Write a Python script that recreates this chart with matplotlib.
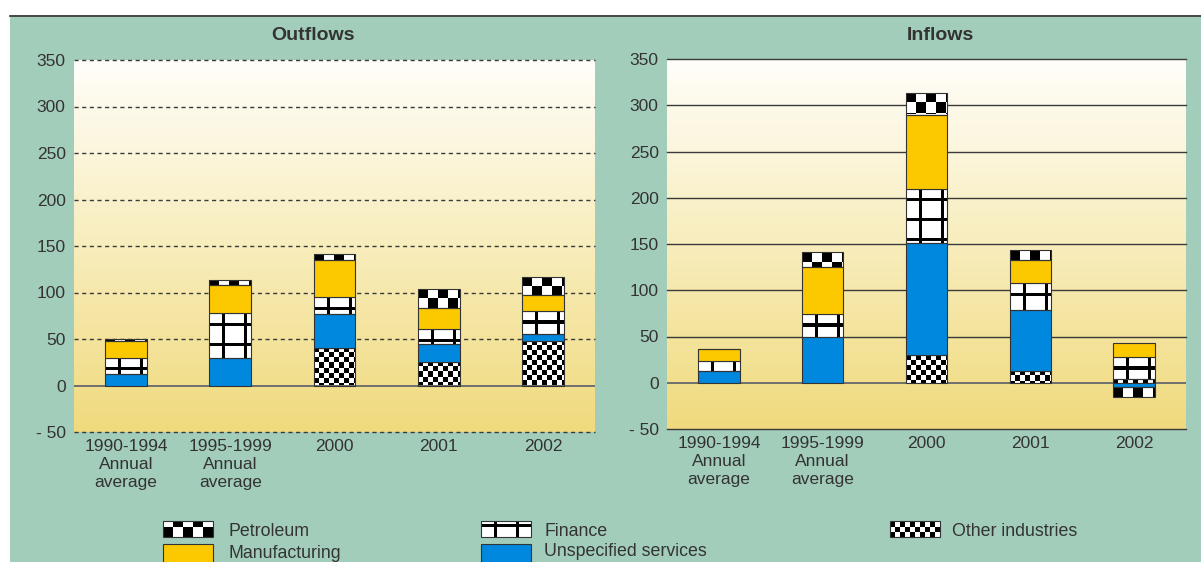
import matplotlib
matplotlib.use('Agg')
import matplotlib.pyplot as plt
import numpy as np
from matplotlib.colors import LinearSegmentedColormap
from matplotlib.patches import Rectangle

plt.rcParams['font.family'] = ['Liberation Sans', 'DejaVu Sans']

categories = ['1990-1994\nAnnual\naverage', '1995-1999\nAnnual\naverage', '2000', '2001', '2002']
y_ticks = [-50, 0, 50, 100, 150, 200, 250, 300, 350]
y_ticklabels = ['- 50', '0', '50', '100', '150', '200', '250', '300', '350']

# stacking order, bottom to top
series_names = ['Other industries', 'Unspecified services', 'Finance', 'Manufacturing', 'Petroleum']

out_other = [0, 0, 40, 25, 48]
out_unspec = [12, 30, 37, 20, 7]
out_finance = [18, 48, 18, 16, 25]
out_manuf = [17.5, 30, 40, 22, 17]
out_petrol = [2.5, 5, 6, 21, 20]

in_other = [0, 0, 30, 13, 4]
in_unspec = [13, 49, 121, 66, -5]
in_finance = [10.5, 25, 59, 29, 24]
in_manuf = [12.5, 51, 80, 25, 15.5]
in_petrol = [0.5, 16, 23, 11, -10.5]

GREEN = '#a3cdbb'
YELLOW = '#fcc800'
BLUE = '#0088de'
TXT = '#333333'
EDGE = '#333333'

styles = {
    'Other industries': ('none', 'small_check'),
    'Unspecified services': (BLUE, None),
    'Finance': ('none', 'grid'),
    'Manufacturing': (YELLOW, None),
    'Petroleum': ('none', 'big_check'),
}


def pattern_img(kind, w, h):
    yy, xx = np.mgrid[0:h, 0:w]
    if kind == 'big_check':
        return ((xx // 10 + yy // 10) % 2).astype(float)
    if kind == 'small_check':
        return ((xx // 5 + yy // 5) % 2).astype(float)
    img = np.ones((h, w))
    img[(xx % 22 >= 13) & (xx % 22 <= 15)] = 0
    img[((yy + 10) % 20) <= 2] = 0
    return img


def fill_pattern(ax, rect, kind):
    x0 = rect.get_x()
    x1 = x0 + rect.get_width()
    y0 = rect.get_y()
    y1 = y0 + rect.get_height()
    (px0, py0), (px1, py1) = ax.transData.transform([(x0, y0), (x1, y1)])
    w = max(1, int(round(abs(px1 - px0))))
    h = max(1, int(round(abs(py1 - py0))))
    img = pattern_img(kind, w, h)
    im = ax.imshow(img, cmap='gray', vmin=0, vmax=1,
                   extent=[min(x0, x1), max(x0, x1), min(y0, y1), max(y0, y1)],
                   origin='upper', interpolation='nearest', aspect='auto', zorder=2.5)
    im.set_clip_path(rect)


def sketch_panel(ax, data, title, title_x, grid_dashed):
    x = np.arange(len(categories))
    ax.set_xlim(-0.5, len(categories) - 0.5)
    ax.set_ylim(-50, 350)
    ax.set_facecolor('none')

    cmap = LinearSegmentedColormap.from_list('bg', ['#fffefa', '#f8edbc', '#f0da7d'])
    grad = np.linspace(0, 1, 256)[:, None]
    ax.imshow(grad, cmap=cmap, extent=(0, 1, 0, 1), transform=ax.transAxes,
              aspect='auto', origin='upper', zorder=0)

    for v in y_ticks:
        if v == 0:
            ax.axhline(0, color='#6e6e6e', lw=1.4, zorder=1)
        elif grid_dashed:
            ax.axhline(v, color='#3a3a3a', lw=1.0, ls=(0, (3, 2.5)), zorder=1, clip_on=False)
        else:
            ax.axhline(v, color='#3a3a3a', lw=1.0, zorder=1, clip_on=False)

    pos = np.zeros(len(categories))
    neg = np.zeros(len(categories))
    for name in series_names:
        vals = np.array(data[name], float)
        bottom = np.where(vals >= 0, pos, neg)
        face, kind = styles[name]
        bars = ax.bar(x, vals, 0.4, bottom=bottom, facecolor=face,
                      edgecolor=EDGE, linewidth=0.8, zorder=3)
        pos += np.clip(vals, 0, None)
        neg += np.clip(vals, None, 0)
        for r, v in zip(bars, vals):
            if v == 0:
                r.set_visible(False)
            elif kind:
                fill_pattern(ax, r, kind)

    ax.set_xlim(-0.5, len(categories) - 0.5)
    ax.set_ylim(-50, 350)
    ax.set_xticks(x)
    ax.set_xticklabels(categories, fontsize=12.5, color=TXT, linespacing=1.25)
    ax.set_yticks(y_ticks)
    ax.set_yticklabels(y_ticklabels, fontsize=12.5, color=TXT)
    ax.tick_params(axis='both', length=0)
    ax.tick_params(axis='x', pad=5)
    ax.tick_params(axis='y', pad=6)
    for s in ax.spines.values():
        s.set_visible(False)
    ax.figure.text(title_x / 1201, 1 - 36 / 562, title, ha='center', va='center',
                   fontsize=14, fontweight='bold', color=TXT)


fig = plt.figure(figsize=(12.01, 5.62), dpi=100)
fig.patch.set_facecolor('white')

# background panel and legend, drawn in pixel coordinates
bg = fig.add_axes([0, 0, 1, 1])
bg.set_xlim(0, 1201)
bg.set_ylim(562, 0)
bg.axis('off')
bg.add_patch(Rectangle((10, 15), 1191, 547, facecolor=GREEN, edgecolor='none', zorder=0))
bg.plot([10, 1201], [15.5, 15.5], color='#333333', lw=1.2, zorder=1)

legend_items = [
    ('Petroleum', 163, 521, 229, 532),
    ('Manufacturing', 163, 544, 229, 553),
    ('Finance', 481, 521, 544, 531),
    ('Unspecified services', 481, 544, 544, 552),
    ('Other industries', 890, 521, 952, 531),
]
for name, sx, sy, tx, ty in legend_items:
    face, kind = styles[name]
    sw = Rectangle((sx, sy), 50, 16 if sy < 540 else 20, facecolor=face,
                   edgecolor=EDGE, linewidth=0.8, zorder=3)
    bg.add_patch(sw)
    if kind:
        fill_pattern(bg, sw, kind)
    bg.text(tx, ty, name, ha='left', va='center', fontsize=12.8, color=TXT)
bg.set_xlim(0, 1201)
bg.set_ylim(562, 0)

ax1 = fig.add_axes([74 / 1201, 1 - 432 / 562, 521 / 1201, 372 / 562])
ax2 = fig.add_axes([667 / 1201, 1 - 429 / 562, 519 / 1201, 370 / 562])

outflows = {'Other industries': out_other, 'Unspecified services': out_unspec,
            'Finance': out_finance, 'Manufacturing': out_manuf, 'Petroleum': out_petrol}
inflows = {'Other industries': in_other, 'Unspecified services': in_unspec,
           'Finance': in_finance, 'Manufacturing': in_manuf, 'Petroleum': in_petrol}

sketch_panel(ax1, outflows, 'Outflows', 313, True)
sketch_panel(ax2, inflows, 'Inflows', 940, False)

plt.savefig('out.png', dpi=100)
